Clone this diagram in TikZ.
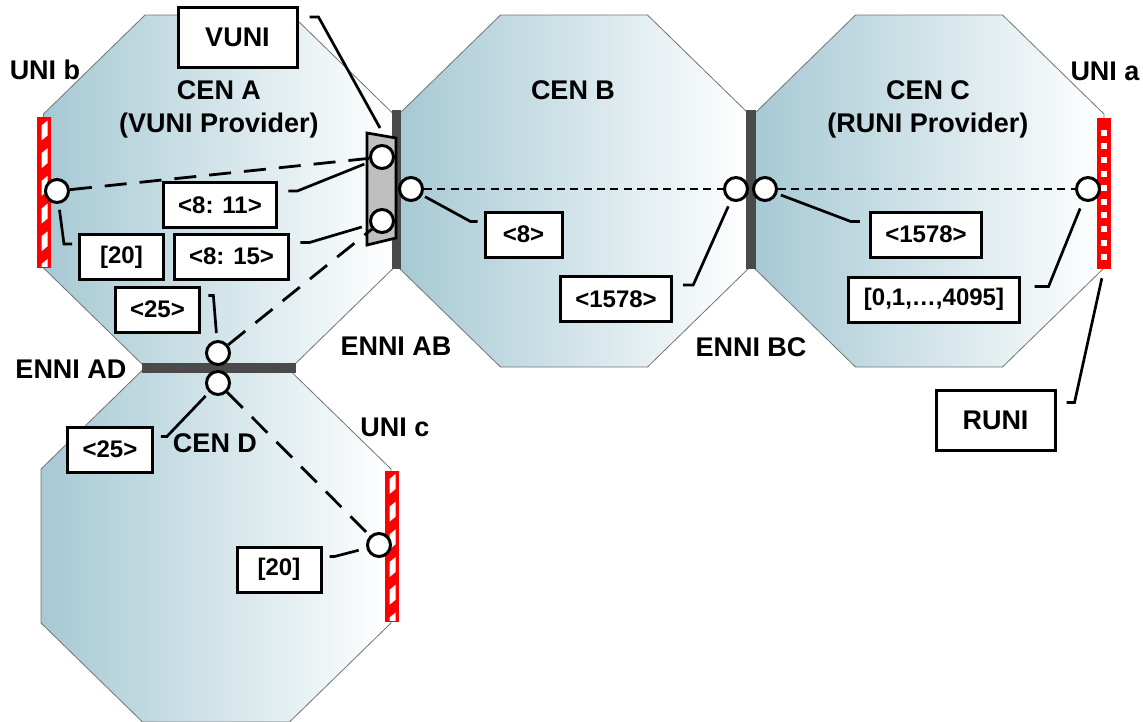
\documentclass[tikz,border=0pt]{standalone}
\usepackage{fontspec}
\setmainfont{Liberation Sans}
\usetikzlibrary{calc}
\definecolor{cenblue}{RGB}{166,201,212}
\definecolor{enngray}{RGB}{74,74,74}

\begin{document}
\begin{tikzpicture}[x=1pt,y=-1pt,
  cen/.style={draw=black!55,line width=0.8pt,left color=cenblue,right color=white},
  enni/.style={fill=enngray},
  port/.style={circle,draw,fill=white,line width=3pt,minimum size=23pt,inner sep=0pt},
  evc/.style={line width=2.8pt,dash pattern=on 22pt off 13pt},
  evcshort/.style={line width=2.7pt,dash pattern=on 8pt off 5.3pt},
  callout/.style={line width=2.7pt},
  valbox/.style={draw,fill=white,line width=3pt,inner xsep=15pt,minimum width=84pt,
    minimum height=45pt,font=\fontsize{24}{28}\selectfont\bfseries},
  ifbox/.style={valbox,minimum width=119pt,minimum height=60pt,font=\fontsize{27}{32}\selectfont\bfseries},
  lbl/.style={inner sep=0pt,anchor=north,align=center,font=\fontsize{27}{33}\selectfont\bfseries},
  unibar/.style={draw=red,fill=red,line width=1pt,minimum width=13pt,minimum height=150pt,inner sep=0pt},
  unihatch/.style={unibar,path picture={
      \foreach \k in {0,...,5}
        \fill[white] ([shift={(4pt,-8pt-27.7pt*\k)}]path picture bounding box.north west)
          -- ++(6pt,5pt) -- ++(0pt,-15pt) -- ++(-6pt,-5pt) -- cycle;}},
  uniladder/.style={unibar,path picture={
      \foreach \k in {0,...,9}
        \fill[white] ([shift={(3.5pt,-11.5pt-13.8pt*\k)}]path picture bounding box.north west)
          rectangle ++(6pt,-6pt);}}]
  \useasboundingbox (0,0) rectangle (1143,721);
  % carrier ethernet networks A, B, C, D
  \foreach \cx/\cy in {218.5/191,574/191,929/191,216/546}
    \draw[cen] (\cx-73.5,\cy-176) -- (\cx+73.5,\cy-176) -- (\cx+175,\cy-77) -- (\cx+175,\cy+77)
      -- (\cx+73.5,\cy+176) -- (\cx-73.5,\cy+176) -- (\cx-175,\cy+77) -- (\cx-175,\cy-77) -- cycle;
  % ENNIs
  \fill[enni] (392,110) rectangle (401,269);
  \fill[enni] (746,110) rectangle (756,269);
  \fill[enni] (142,363) rectangle (296,373);
  % VUNI
  \draw[line width=2.7pt,fill=black!25] (367,133) -- (396,138) -- (396,238) -- (367,245) -- cycle;
  \coordinate (vuniTip) at (380,128);
  % UNIs
  \node[unihatch] (uniB) at (44,192.5) {};
  \node[uniladder] (uniA) at (1104,193) {};
  \node[unihatch] (uniC) at (392,546) {};
  % service endpoints
  \node[port] (pVUNIa) at (382,157) {};
  \node[port] (pVUNIb) at (382,221) {};
  \node[port] (pAB) at (411,189) {};
  \node[port] (pBC1) at (736,189) {};
  \node[port] (pBC2) at (765,189) {};
  \node[port] (pUNIa) at (1088,189) {};
  \node[port] (pUNIb) at (57,191) {};
  \node[port] (pAD1) at (218,353) {};
  \node[port] (pAD2) at (218,383) {};
  \node[port] (pUNIc) at (379,545) {};
  % OVCs
  \draw[evc] (pUNIb) -- (pVUNIa);
  \draw[evc] (pAD1) -- (pVUNIb);
  \draw[evc] (pAD2) -- (pUNIc);
  \draw[evcshort] (pAB) -- (pBC1);
  \draw[evcshort] (pBC2) -- (pUNIa);
  % CE-VLAN ID maps
  \node[ifbox] (vuni) at (237.5,37.5) {VUNI};
  \node[ifbox] (runi) at (995.5,420.5) {RUNI};
  \node[valbox] (b811) at (220,205) {<8: 11>};
  \node[valbox] (b815) at (231.5,256.5) {<8: 15>};
  \node[valbox] (b20a) at (121.5,257) {[20]};
  \node[valbox] (b25a) at (157.5,309.5) {<25>};
  \node[valbox,minimum width=77pt] (b8) at (523.5,234.5) {<8>};
  \node[valbox] (b1578b) at (616,299) {<1578>};
  \node[valbox] (b1578c) at (926,234.5) {<1578>};
  \node[valbox] (brange) at (934,299.5) {[0,1,…,4095]};
  \node[valbox] (b25d) at (110,449.5) {<25>};
  \node[valbox] (b20d) at (279,569.5) {[20]};
  \draw[callout] ([shift={(11pt,-11pt)}]vuni.north east) -- ++(9,0) -- (vuniTip);
  \draw[callout,shorten >=6pt] ([shift={(10pt,14pt)}]b811.east) -- ++(9,0) -- (pVUNIa);
  \draw[callout,shorten >=8pt] ([shift={(10pt,14pt)}]b815.east) -- ++(9,0) -- (pVUNIb);
  \draw[callout,shorten >=6pt] ([shift={(-6pt,13pt)}]b20a.west) -- ++(-8,0) -- (pUNIb);
  \draw[callout,shorten >=7pt] ([shift={(7pt,14pt)}]b25a.east) -- ++(5,0) -- (pAD1);
  \draw[callout,shorten >=3pt] ([shift={(-6pt,13pt)}]b8.west) -- ++(-7,0) -- (pAB);
  \draw[callout,shorten >=6pt] ([shift={(10pt,14pt)}]b1578b.east) -- ++(10,0) -- (pBC1);
  \draw[callout,shorten >=4pt] ([shift={(-9pt,13pt)}]b1578c.west) -- ++(-9,0) -- (pBC2);
  \draw[callout,shorten >=8pt] ([shift={(14pt,13pt)}]brange.east) -- ++(14,0) -- (pUNIa);
  \draw[callout,shorten >=10pt] ([shift={(10pt,18pt)}]runi.east) -- ++(8,0) -- (uniA.south);
  \draw[callout,shorten >=5pt] ([shift={(7pt,13pt)}]b25d.east) -- ++(6,0) -- (pAD2);
  \draw[callout,shorten >=8pt] ([shift={(7pt,13pt)}]b20d.east) -- ++(5,0) -- (pUNIc);
  % labels
  \node[lbl] (lUNIb) at (45,60) {UNI b};
  \node[lbl] (lCENA) at (219,80) {CEN A\\(VUNI Provider)};
  \node[lbl] (lCENB) at (573,80) {CEN B};
  \node[lbl] (lCENC) at (928,80) {CEN C\\(RUNI Provider)};
  \node[lbl] (lUNIa) at (1105,62) {UNI a};
  \node[lbl] (lAB) at (396,337) {ENNI AB};
  \node[lbl] (lBC) at (751,337) {ENNI BC};
  \node[lbl] (lAD) at (71,360) {ENNI AD};
  \node[lbl] (lCEND) at (215,433) {CEN D};
  \node[lbl] (lUNIc) at (395,418) {UNI c};
\end{tikzpicture}
\end{document}
